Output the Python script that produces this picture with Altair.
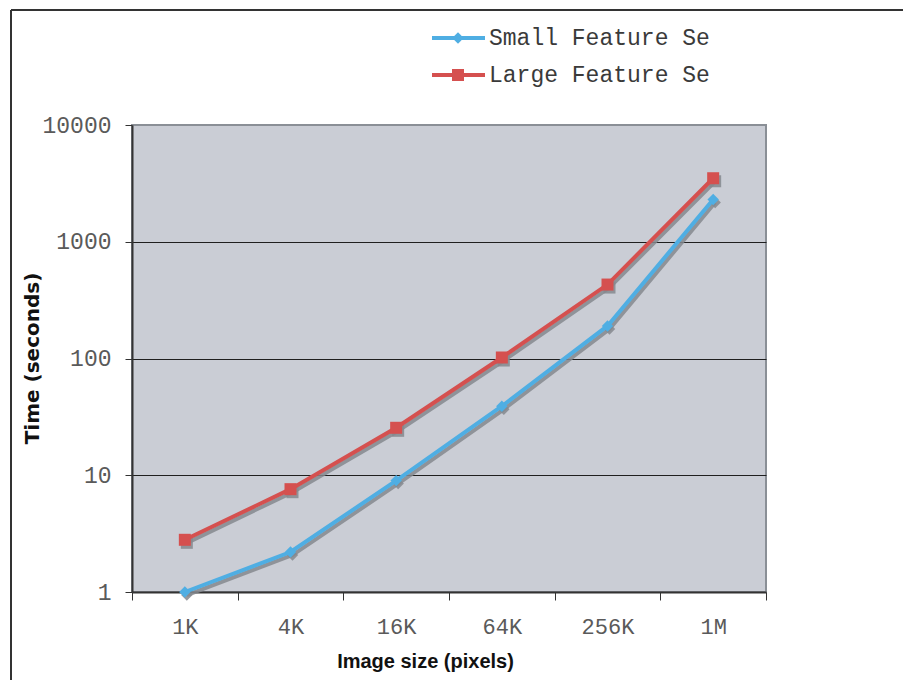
import altair as alt
import pandas as pd

sizes = ["1K", "4K", "16K", "64K", "256K", "1M"]
small_feature = [1.0, 2.2, 9.0, 39, 190, 2300]
large_feature = [2.8, 7.6, 25.5, 102, 430, 3500]
series_names = ["Small Feature Set", "Large Feature Set"]
legend_labels = ["Small Feature Se", "Large Feature Se"]

rows = []
for s, v in zip(sizes, small_feature):
    rows.append({"size": s, "time": v, "series": series_names[0]})
for s, v in zip(sizes, large_feature):
    rows.append({"size": s, "time": v, "series": series_names[1]})
df = pd.DataFrame(rows)

BLUE = "#4FAEE3"
RED = "#D5504F"
SHADOW = "#85888E"
W, H = 634, 467
BAND_HALF = W / len(sizes) / 2

color_scale = alt.Scale(domain=series_names, range=[BLUE, RED])
shape_scale = alt.Scale(domain=series_names, range=["diamond", "square"])
size_scale = alt.Scale(domain=series_names, range=[130, 144])

x_enc = alt.X(
    "size:N",
    sort=sizes,
    scale=alt.Scale(type="band", paddingInner=0, paddingOuter=0),
    axis=alt.Axis(
        title="Image size (pixels)",
        titleFont="Liberation Sans",
        titleFontWeight="bold",
        titleFontSize=20,
        titleColor="#111111",
        titleX=293,
        titleY=69,
        titleBaseline="middle",
        titleAlign="center",
        labelFont="Liberation Mono",
        labelFontSize=22,
        labelColor="#5a5a5a",
        labelPadding=16,
        labelAngle=0,
        tickBand="extent",
        tickSize=8,
        tickColor="#333333",
        domainColor="#333333",
        domainWidth=2,
        grid=False,
    ),
)

y_scale = alt.Scale(type="log", domain=[1, 10000], nice=False)
y_axis = alt.Axis(
    title="Time (seconds)",
    titleFont="DejaVu Sans",
    titleFontWeight="bold",
    titleFontSize=20,
    titleColor="#111111",
    titleAngle=-90,
    titleX=-100,
    titleY=233,
    titleBaseline="middle",
    titleAlign="center",
    values=[1, 10, 100, 1000, 10000],
    format="d",
    labelFont="Liberation Mono",
    labelFontSize=23,
    labelColor="#5a5a5a",
    labelPadding=14,
    tickSize=7,
    tickColor="#333333",
    domainColor="#333333",
    domainWidth=2,
    grid=True,
    gridColor=alt.condition("datum.value == 10000 || datum.value == 1", alt.value("#8a8f96"), alt.value("#1f1f1f")),
    gridWidth=1,
)

base = alt.Chart(df)

shadow_line = base.transform_calculate(ts="datum.time * 0.942").mark_line(
    strokeWidth=4, color=SHADOW, opacity=0.85
).encode(
    x=x_enc,
    xOffset=alt.value(BAND_HALF + 2),
    y=alt.Y("ts:Q", scale=y_scale, axis=y_axis),
    detail="series:N",
)

shadow_pts = base.transform_calculate(ts="datum.time * 0.942").mark_point(
    filled=True, color=SHADOW, opacity=0.85
).encode(
    x=x_enc,
    xOffset=alt.value(BAND_HALF + 2),
    y=alt.Y("ts:Q", scale=y_scale),
    shape=alt.Shape("series:N", scale=shape_scale, legend=None),
    size=alt.Size("series:N", scale=size_scale, legend=None),
)

lines = base.mark_line(strokeWidth=4).encode(
    x=x_enc,
    y=alt.Y("time:Q", scale=y_scale),
    color=alt.Color("series:N", scale=color_scale, legend=None),
)

pts = base.mark_point(filled=True, opacity=1).encode(
    x=x_enc,
    y=alt.Y("time:Q", scale=y_scale),
    color=alt.Color("series:N", scale=color_scale, legend=None),
    shape=alt.Shape("series:N", scale=shape_scale, legend=None),
    size=alt.Size("series:N", scale=size_scale, legend=None),
)

# manual legend (top, text clipped as in the reference)
leg_df = pd.DataFrame({"series": series_names, "label": legend_labels, "row": [0, 1]})
leg = alt.Chart(leg_df)
leg_y = "-87 + datum.row * 37"
leg_lines = leg.transform_calculate(ly=leg_y).mark_rule(strokeWidth=4).encode(
    x=alt.value(300),
    x2=alt.value(353),
    y=alt.Y("ly:Q", scale=None),
    color=alt.Color("series:N", scale=color_scale, legend=None),
)
leg_pts = leg.transform_calculate(ly=leg_y).mark_point(filled=True, opacity=1).encode(
    x=alt.value(326),
    y=alt.Y("ly:Q", scale=None),
    color=alt.Color("series:N", scale=color_scale, legend=None),
    shape=alt.Shape("series:N", scale=shape_scale, legend=None),
    size=alt.Size("series:N", scale=size_scale, legend=None),
)
leg_text = leg.transform_calculate(ly=leg_y).mark_text(
    align="left", baseline="middle", font="Liberation Mono", fontSize=23, color="#3a3a3a"
).encode(
    x=alt.value(357),
    y=alt.Y("ly:Q", scale=None),
    text="label:N",
)

frame_df = pd.DataFrame({"k": [0]})
frame_top = alt.Chart(frame_df).mark_rule(stroke="#333333", strokeWidth=2).encode(
    x=alt.value(-121), x2=alt.value(800), y=alt.value(-115)
)
frame_left = alt.Chart(frame_df).mark_rule(stroke="#333333", strokeWidth=2).encode(
    x=alt.value(-121), y=alt.value(-115), y2=alt.value(600)
)

chart = alt.layer(
    frame_top, frame_left, shadow_line, shadow_pts, lines, pts, leg_lines, leg_pts, leg_text
).resolve_scale(y="shared").properties(
    width=W,
    height=H,
    autosize=alt.AutoSizeParams(type="none"),
    padding={"left": 124, "top": 117, "right": 137, "bottom": 88},
).configure(
    background="white",
    view=alt.ViewConfig(fill="#CACDD5", stroke="#8a8f96", strokeWidth=2),
)

chart.save("out.html", embed_options={"renderer": "svg", "actions": False})
